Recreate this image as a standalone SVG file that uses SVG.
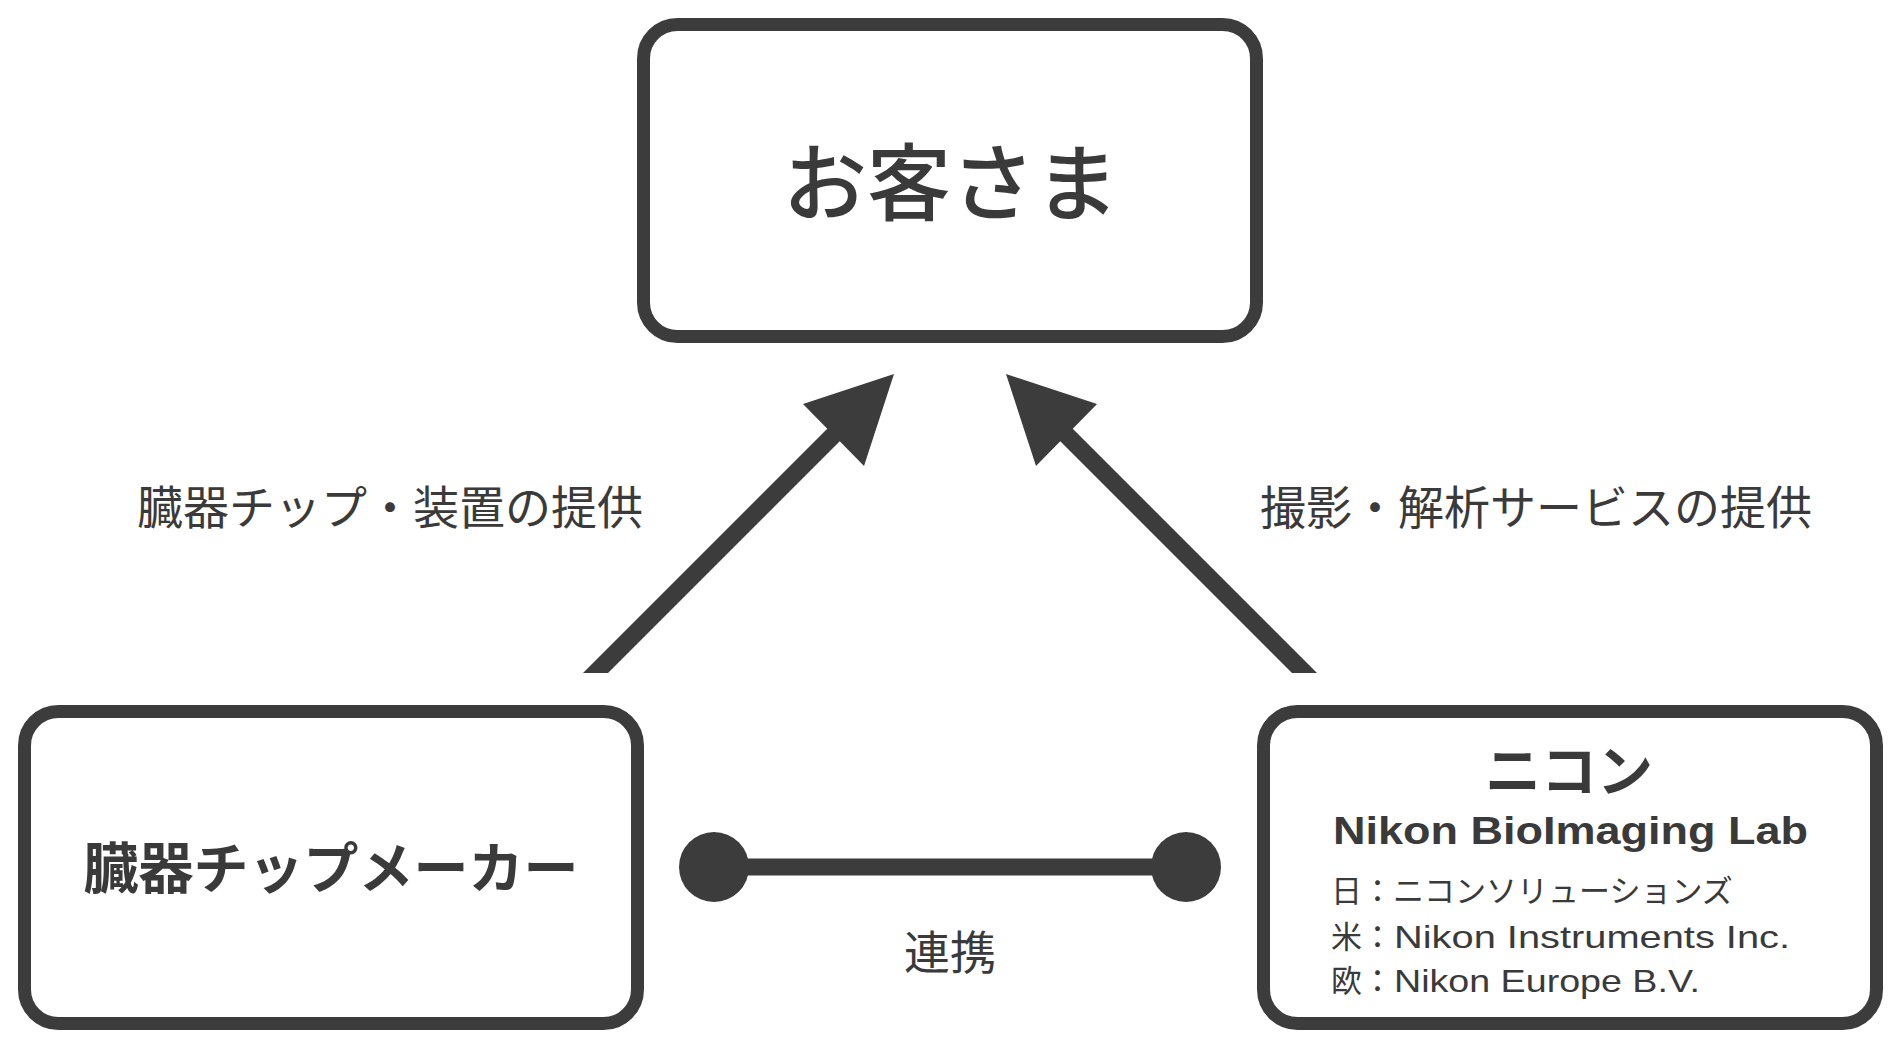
<svg xmlns="http://www.w3.org/2000/svg" width="1900" height="1047" viewBox="0 0 1900 1047">
<style>
.box{fill:#fff;stroke:#3c3c3c;stroke-width:13}
.t{font-family:"Liberation Sans","Noto Sans CJK JP",sans-serif;fill:#3a3a3a}
.arrow{fill:#3c3c3c}
.link{stroke:#3c3c3c;stroke-width:17}
.dot{fill:#3c3c3c}
</style>
<rect width="1900" height="1047" fill="#fff"/>
<g id="customer">
<rect class="box" x="643.5" y="24.5" width="613" height="312" rx="34"/>
<text class="t" x="951" y="214" font-size="84" font-weight="500" text-anchor="middle">お客さま</text>
</g>
<g id="maker">
<rect class="box" x="24.5" y="711.5" width="613" height="312" rx="34"/>
<text class="t" x="331" y="888" font-size="55" font-weight="bold" text-anchor="middle">臓器チップメーカー</text>
</g>
<g id="nikon">
<rect class="box" x="1263.5" y="711.5" width="613" height="312" rx="34"/>
<text class="t" x="1569" y="791" font-size="56" font-weight="bold" text-anchor="middle">ニコン</text>
<text class="t" x="1333" y="844" font-size="39" font-weight="bold" textLength="475" lengthAdjust="spacingAndGlyphs">Nikon BioImaging Lab</text>
<text class="t" x="1331" y="902" font-size="31">日：ニコンソリューションズ</text>
<text class="t" x="1331" y="948" font-size="31">米：</text>
<text class="t" x="1394" y="948" font-size="32" textLength="396" lengthAdjust="spacingAndGlyphs">Nikon Instruments Inc.</text>
<text class="t" x="1331" y="992" font-size="31">欧：</text>
<text class="t" x="1394" y="992" font-size="32" textLength="306" lengthAdjust="spacingAndGlyphs">Nikon Europe B.V.</text>
</g>
<g id="connectors">
<polygon class="arrow" points="583,673 827.25,428.75 803,404 894,374 864,466 839.75,441.25 608,673"/>
<polygon class="arrow" points="1317,673 1072.75,428.75 1097,404 1006,374 1036,466 1060.25,441.25 1292,673"/>
<line class="link" x1="714" y1="867" x2="1186" y2="867"/>
<circle class="dot" cx="714" cy="867" r="35"/>
<circle class="dot" cx="1186" cy="867" r="35"/>
<text class="t" x="390" y="524" font-size="46" text-anchor="middle">臓器チップ・装置の提供</text>
<text class="t" x="1536" y="524" font-size="46" text-anchor="middle">撮影・解析サービスの提供</text>
<text class="t" x="950" y="969" font-size="46" text-anchor="middle">連携</text>
</g>
</svg>
